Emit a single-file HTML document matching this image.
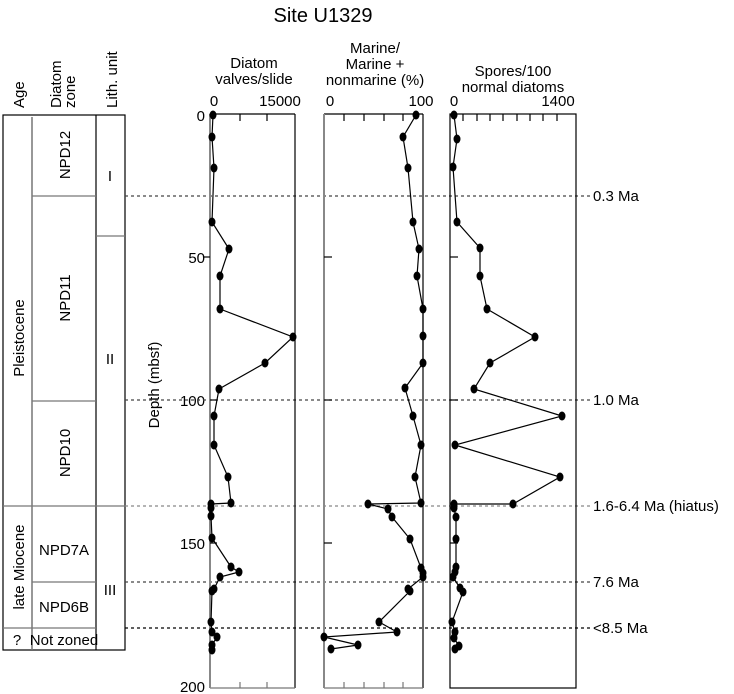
<!DOCTYPE html>
<html><head><meta charset="utf-8"><style>
html,body{margin:0;padding:0;background:#fff;}
svg{display:block;font-family:"Liberation Sans",Arial,sans-serif;}
</style></head><body>
<svg width="734" height="694" viewBox="0 0 734 694" xmlns="http://www.w3.org/2000/svg">
<text x="323" y="22" font-size="20" text-anchor="middle">Site U1329</text>

<g font-size="15">
<text transform="translate(24,108) rotate(-90)">Age</text>
<text transform="translate(61,108) rotate(-90)">Diatom</text>
<text transform="translate(75,108) rotate(-90)">zone</text>
<text transform="translate(117,108) rotate(-90)">Lith. unit</text>
</g>

<g fill="none">
<rect x="3" y="115" width="122" height="535" stroke="#000" stroke-width="1.2"/>
<line x1="32" y1="117" x2="32" y2="650" stroke="#777" stroke-width="1.5"/>
<line x1="96" y1="115" x2="96" y2="650" stroke="#000" stroke-width="1.2"/>
<line x1="32" y1="196" x2="96" y2="196" stroke="#777" stroke-width="1.2"/>
<line x1="96" y1="236" x2="125" y2="236" stroke="#777" stroke-width="1.2"/>
<line x1="32" y1="401" x2="96" y2="401" stroke="#777" stroke-width="1.2"/>
<line x1="3" y1="506" x2="125" y2="506" stroke="#777" stroke-width="1.2"/>
<line x1="32" y1="582" x2="96" y2="582" stroke="#777" stroke-width="1.2"/>
<line x1="3" y1="628" x2="96" y2="628" stroke="#777" stroke-width="1.2"/>
</g>
<g font-size="15" text-anchor="middle">
<text transform="translate(70,155) rotate(-90)">NPD12</text>
<text transform="translate(70,298) rotate(-90)">NPD11</text>
<text transform="translate(70,453) rotate(-90)">NPD10</text>
<text transform="translate(24,338) rotate(-90)">Pleistocene</text>
<text transform="translate(24,567) rotate(-90)">late Miocene</text>
<text x="64" y="555">NPD7A</text>
<text x="64" y="612">NPD6B</text>
<text x="64" y="645">Not zoned</text>
<text x="17" y="645">?</text>
<text x="110" y="181">I</text>
<text x="110" y="364">II</text>
<text x="110" y="595">III</text>
</g>

<g font-size="15" text-anchor="end">
<text x="205" y="121">0</text>
<text x="205" y="263">50</text>
<text x="205" y="406">100</text>
<text x="205" y="549">150</text>
<text x="205" y="692">200</text>
</g>
<text transform="translate(159,385) rotate(-90)" font-size="15" text-anchor="middle">Depth (mbsf)</text>

<g stroke="#444" stroke-width="1.2" stroke-dasharray="3,3">
<line x1="125" y1="196" x2="592" y2="196"/>
<line x1="125" y1="400" x2="592" y2="400"/>
<line x1="125" y1="506" x2="592" y2="506" stroke="#888"/>
<line x1="125" y1="582" x2="592" y2="582"/>
<line x1="125" y1="628" x2="592" y2="628" stroke="#000"/>
</g>
<g font-size="15">
<text x="593" y="201">0.3 Ma</text>
<text x="593" y="405">1.0 Ma</text>
<text x="593" y="511">1.6-6.4 Ma (hiatus)</text>
<text x="593" y="587">7.6 Ma</text>
<text x="593" y="633">&lt;8.5 Ma</text>
</g>

<g font-size="15" text-anchor="middle">
<text x="254" y="68">Diatom</text>
<text x="254" y="84">valves/slide</text>
<text x="214" y="106">0</text>
<text x="280" y="106">15000</text>
<text x="375" y="53">Marine/</text>
<text x="375" y="69">Marine +</text>
<text x="375" y="85">nonmarine (%)</text>
<text x="330" y="106">0</text>
<text x="421" y="106">100</text>
<text x="513" y="76">Spores/100</text>
<text x="513" y="92">normal diatoms</text>
<text x="454" y="106">0</text>
<text x="558" y="106">1400</text>
</g>

<g fill="none" stroke-width="1.2">
<line x1="210" y1="114" x2="295" y2="114" stroke="#000"/>
<line x1="295" y1="114" x2="295" y2="688" stroke="#000"/>
<line x1="210" y1="688" x2="295" y2="688" stroke="#777"/>
<line x1="210" y1="114" x2="210" y2="688" stroke="#888" stroke-width="2"/>
<line x1="240" y1="114" x2="240" y2="121" stroke="#000"/>
<line x1="267" y1="114" x2="267" y2="121" stroke="#000"/>
<line x1="203" y1="257" x2="210" y2="257" stroke="#000"/>
<line x1="210" y1="400" x2="217" y2="400" stroke="#000"/>
<line x1="210" y1="543" x2="217" y2="543" stroke="#000"/>
<line x1="240" y1="688" x2="240" y2="682" stroke="#777"/>
<line x1="267" y1="688" x2="267" y2="682" stroke="#777"/>
</g>
<g fill="none" stroke-width="1.2">
<line x1="324" y1="114" x2="423" y2="114" stroke="#000"/>
<line x1="423" y1="114" x2="423" y2="688" stroke="#000"/>
<line x1="324" y1="688" x2="423" y2="688" stroke="#777"/>
<line x1="324" y1="114" x2="324" y2="688" stroke="#888" stroke-width="2"/>
<g stroke="#000">
<line x1="344" y1="114" x2="344" y2="121"/><line x1="364" y1="114" x2="364" y2="121"/>
<line x1="384" y1="114" x2="384" y2="121"/><line x1="403" y1="114" x2="403" y2="121"/>
<line x1="324" y1="257" x2="332" y2="257"/><line x1="324" y1="400" x2="332" y2="400"/><line x1="324" y1="543" x2="332" y2="543"/>
</g>
<g stroke="#777"><line x1="344" y1="688" x2="344" y2="682"/><line x1="364" y1="688" x2="364" y2="682"/><line x1="384" y1="688" x2="384" y2="682"/><line x1="403" y1="688" x2="403" y2="682"/></g>
</g>
<g fill="none" stroke-width="1.2" stroke="#000">
<rect x="450" y="114" width="126" height="574"/>
<line x1="463" y1="114" x2="463" y2="121"/><line x1="477" y1="114" x2="477" y2="121"/>
<line x1="490" y1="114" x2="490" y2="121"/><line x1="503" y1="114" x2="503" y2="121"/>
<line x1="517" y1="114" x2="517" y2="121"/><line x1="530" y1="114" x2="530" y2="121"/>
<line x1="543" y1="114" x2="543" y2="121"/><line x1="557" y1="114" x2="557" y2="121"/>
<line x1="450" y1="257" x2="458" y2="257"/><line x1="450" y1="400" x2="458" y2="400"/><line x1="450" y1="543" x2="458" y2="543"/>
</g>

<g fill="none" stroke="#000" stroke-width="1.2">
<polyline points="213,115 212,137 214,168 212,222 229,249 220,276 220,309 293,337 265,363 219,389 214,416 214,445 228,477 231,503 211,504 211,508 211,516 212,538 231,567 239,572 220,577 214,589 212,591 211,622 212,632 217,637 212,645 212,650"/>
<polyline points="416,115 403,137 408,168 413,222 419,249 417,276 423,309 423,336 423,363 405,388 413,416 421,445 415,477 421,503 368,504 388,509 392,517 410,539 421,568 423,573 423,577 408,589 410,591 379,622 397,632 324,637 358,645 331,649"/>
<polyline points="454,115 457,139 453,167 457,222 480,248 480,276 487,309 535,337 490,363 474,389 562,416 455,445 560,477 513,504 454,504 454,508 456,517 456,539 456,567 455,572 453,577 460,588 463,592 452,622 455,632 454,638 459,646 455,649"/>
</g>
<g fill="#000">
<ellipse cx="213" cy="115" rx="3.5" ry="4.5"/><ellipse cx="212" cy="137" rx="3.5" ry="4.5"/><ellipse cx="214" cy="168" rx="3.5" ry="4.5"/><ellipse cx="212" cy="222" rx="3.5" ry="4.5"/><ellipse cx="229" cy="249" rx="3.5" ry="4.5"/><ellipse cx="220" cy="276" rx="3.5" ry="4.5"/><ellipse cx="220" cy="309" rx="3.5" ry="4.5"/><ellipse cx="293" cy="337" rx="3.5" ry="4.5"/><ellipse cx="265" cy="363" rx="3.5" ry="4.5"/><ellipse cx="219" cy="389" rx="3.5" ry="4.5"/><ellipse cx="214" cy="416" rx="3.5" ry="4.5"/><ellipse cx="214" cy="445" rx="3.5" ry="4.5"/><ellipse cx="228" cy="477" rx="3.5" ry="4.5"/><ellipse cx="231" cy="503" rx="3.5" ry="4.5"/><ellipse cx="211" cy="504" rx="3.5" ry="4.5"/><ellipse cx="211" cy="508" rx="3.5" ry="4.5"/><ellipse cx="211" cy="516" rx="3.5" ry="4.5"/><ellipse cx="212" cy="538" rx="3.5" ry="4.5"/><ellipse cx="231" cy="567" rx="3.5" ry="4.5"/><ellipse cx="239" cy="572" rx="3.5" ry="4.5"/><ellipse cx="220" cy="577" rx="3.5" ry="4.5"/><ellipse cx="214" cy="589" rx="3.5" ry="4.5"/><ellipse cx="212" cy="591" rx="3.5" ry="4.5"/><ellipse cx="211" cy="622" rx="3.5" ry="4.5"/><ellipse cx="212" cy="632" rx="3.5" ry="4.5"/><ellipse cx="217" cy="637" rx="3.5" ry="4.5"/><ellipse cx="212" cy="645" rx="3.5" ry="4.5"/><ellipse cx="212" cy="650" rx="3.5" ry="4.5"/>
<ellipse cx="416" cy="115" rx="3.5" ry="4.5"/><ellipse cx="403" cy="137" rx="3.5" ry="4.5"/><ellipse cx="408" cy="168" rx="3.5" ry="4.5"/><ellipse cx="413" cy="222" rx="3.5" ry="4.5"/><ellipse cx="419" cy="249" rx="3.5" ry="4.5"/><ellipse cx="417" cy="276" rx="3.5" ry="4.5"/><ellipse cx="423" cy="309" rx="3.5" ry="4.5"/><ellipse cx="423" cy="336" rx="3.5" ry="4.5"/><ellipse cx="423" cy="363" rx="3.5" ry="4.5"/><ellipse cx="405" cy="388" rx="3.5" ry="4.5"/><ellipse cx="413" cy="416" rx="3.5" ry="4.5"/><ellipse cx="421" cy="445" rx="3.5" ry="4.5"/><ellipse cx="415" cy="477" rx="3.5" ry="4.5"/><ellipse cx="421" cy="503" rx="3.5" ry="4.5"/><ellipse cx="368" cy="504" rx="3.5" ry="4.5"/><ellipse cx="388" cy="509" rx="3.5" ry="4.5"/><ellipse cx="392" cy="517" rx="3.5" ry="4.5"/><ellipse cx="410" cy="539" rx="3.5" ry="4.5"/><ellipse cx="421" cy="568" rx="3.5" ry="4.5"/><ellipse cx="423" cy="573" rx="3.5" ry="4.5"/><ellipse cx="423" cy="577" rx="3.5" ry="4.5"/><ellipse cx="408" cy="589" rx="3.5" ry="4.5"/><ellipse cx="410" cy="591" rx="3.5" ry="4.5"/><ellipse cx="379" cy="622" rx="3.5" ry="4.5"/><ellipse cx="397" cy="632" rx="3.5" ry="4.5"/><ellipse cx="324" cy="637" rx="3.5" ry="4.5"/><ellipse cx="358" cy="645" rx="3.5" ry="4.5"/><ellipse cx="331" cy="649" rx="3.5" ry="4.5"/>
<ellipse cx="454" cy="115" rx="3.5" ry="4.5"/><ellipse cx="457" cy="139" rx="3.5" ry="4.5"/><ellipse cx="453" cy="167" rx="3.5" ry="4.5"/><ellipse cx="457" cy="222" rx="3.5" ry="4.5"/><ellipse cx="480" cy="248" rx="3.5" ry="4.5"/><ellipse cx="480" cy="276" rx="3.5" ry="4.5"/><ellipse cx="487" cy="309" rx="3.5" ry="4.5"/><ellipse cx="535" cy="337" rx="3.5" ry="4.5"/><ellipse cx="490" cy="363" rx="3.5" ry="4.5"/><ellipse cx="474" cy="389" rx="3.5" ry="4.5"/><ellipse cx="562" cy="416" rx="3.5" ry="4.5"/><ellipse cx="455" cy="445" rx="3.5" ry="4.5"/><ellipse cx="560" cy="477" rx="3.5" ry="4.5"/><ellipse cx="513" cy="504" rx="3.5" ry="4.5"/><ellipse cx="454" cy="504" rx="3.5" ry="4.5"/><ellipse cx="454" cy="508" rx="3.5" ry="4.5"/><ellipse cx="456" cy="517" rx="3.5" ry="4.5"/><ellipse cx="456" cy="539" rx="3.5" ry="4.5"/><ellipse cx="456" cy="567" rx="3.5" ry="4.5"/><ellipse cx="455" cy="572" rx="3.5" ry="4.5"/><ellipse cx="453" cy="577" rx="3.5" ry="4.5"/><ellipse cx="460" cy="588" rx="3.5" ry="4.5"/><ellipse cx="463" cy="592" rx="3.5" ry="4.5"/><ellipse cx="452" cy="622" rx="3.5" ry="4.5"/><ellipse cx="455" cy="632" rx="3.5" ry="4.5"/><ellipse cx="454" cy="638" rx="3.5" ry="4.5"/><ellipse cx="459" cy="646" rx="3.5" ry="4.5"/><ellipse cx="455" cy="649" rx="3.5" ry="4.5"/>
</g>
</svg>
</body></html>
